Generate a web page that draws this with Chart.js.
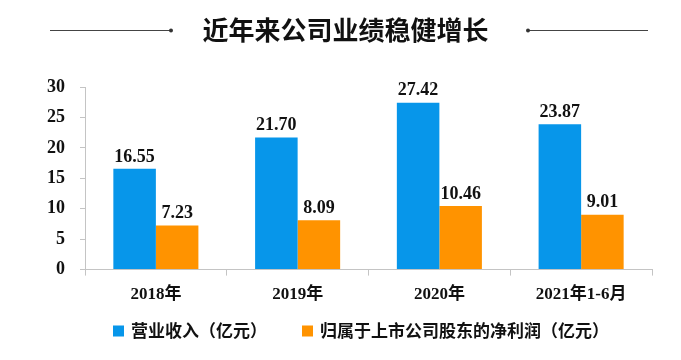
<!DOCTYPE html>
<html>
<head>
<meta charset="utf-8">
<script src="https://cdn.jsdelivr.net/npm/chart.js@4"></script>
<style>
  html, body { margin: 0; padding: 0; background: #fff; }
  #wrap { width: 681px; height: 360px; }
</style>
</head>
<body>
<div id="wrap"><canvas id="myChart" width="681" height="360"></canvas></div>
<script>
const titleText = '近年来公司业绩稳健增长';
const categories = ['2018年', '2019年', '2020年', '2021年1-6月'];
const revenue = [16.55, 21.70, 27.42, 23.87];
const netProfit = [7.23, 8.09, 10.46, 9.01];
const seriesNames = ['营业收入（亿元）', '归属于上市公司股东的净利润（亿元）'];
const yTicks = [0, 5, 10, 15, 20, 25, 30];

const cjk = "'Noto Sans CJK SC', sans-serif";
const serif = "'Liberation Serif', 'Times New Roman', 'Noto Sans CJK SC', serif";

// title with side lines, values above the bars, legend row at the bottom
const decor = {
    id: 'decor',
    afterDraw: (chart) => {
        const ctx = chart.ctx;
        ctx.save();
        ctx.font = "bold 26px " + cjk;
        ctx.fillStyle = '#111';
        ctx.textAlign = 'center';
        ctx.textBaseline = 'middle';
        ctx.fillText(titleText, 345.5, 30);
        ctx.strokeStyle = '#444';
        ctx.lineWidth = 1;
        ctx.beginPath();
        ctx.moveTo(50, 30.5); ctx.lineTo(171, 30.5);
        ctx.moveTo(528, 30.5); ctx.lineTo(648, 30.5);
        ctx.stroke();
        ctx.fillStyle = '#333';
        ctx.beginPath(); ctx.arc(171, 30.5, 2, 0, Math.PI * 2); ctx.fill();
        ctx.beginPath(); ctx.arc(528, 30.5, 2, 0, Math.PI * 2); ctx.fill();

        ctx.font = "bold 18px " + serif;
        ctx.fillStyle = '#111';
        ctx.textBaseline = 'bottom';
        chart.data.datasets.forEach((ds, i) => {
            chart.getDatasetMeta(i).data.forEach((bar, j) => {
                ctx.fillText(ds.data[j].toFixed(2), bar.x, bar.y - 3);
            });
        });

        // legend
        ctx.font = "bold 17px " + cjk;
        ctx.textAlign = 'left';
        ctx.textBaseline = 'middle';
        let x = 113;
        const y = 331;
        chart.data.datasets.forEach((ds) => {
            ctx.fillStyle = ds.backgroundColor;
            ctx.fillRect(x, y - 5.5, 11, 11);
            ctx.fillStyle = '#111';
            ctx.fillText(ds.label, x + 18, y);
            x += 18 + ctx.measureText(ds.label).width + 35;
        });
        ctx.restore();
    }
};

const ctx = document.getElementById('myChart').getContext('2d');
const myChart = new Chart(ctx, {
    type: 'bar',
    data: {
        labels: categories,
        datasets: [
            {
                label: seriesNames[0],
                data: revenue,
                backgroundColor: '#0796ea',
                categoryPercentage: 0.6,
                barPercentage: 1.0
            },
            {
                label: seriesNames[1],
                data: netProfit,
                backgroundColor: '#ff9300',
                categoryPercentage: 0.6,
                barPercentage: 1.0
            }
        ]
    },
    plugins: [decor],
    options: {
        responsive: false,
        animation: false,
        layout: { padding: { top: 87, left: 32, right: 29, bottom: 46 } },
        plugins: {
            tooltip: { enabled: false },
            legend: { display: false }
        },
        scales: {
            x: {
                grid: { display: true, drawOnChartArea: false, offset: true, tickLength: 6, color: '#c4c4c4' },
                border: { color: '#c4c4c4' },
                ticks: { color: '#111', padding: 9, font: { family: serif, size: 17, weight: 'bold' } }
            },
            y: {
                min: 0,
                max: 30,
                afterBuildTicks: (axis) => { axis.ticks = yTicks.map(v => ({ value: v })); },
                grid: { display: true, drawOnChartArea: false, tickLength: 5, color: '#c4c4c4' },
                border: { color: '#c4c4c4' },
                ticks: { color: '#111', padding: 15, font: { family: serif, size: 18, weight: 'bold' } }
            }
        }
    }
});
</script>
</body>
</html>
